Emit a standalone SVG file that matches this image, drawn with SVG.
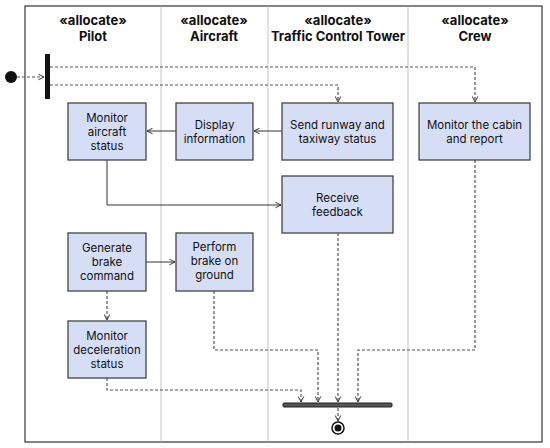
<svg xmlns="http://www.w3.org/2000/svg" width="550" height="448" viewBox="0 0 550 448">
<defs>
<marker id="ah" viewBox="0 0 10 10" refX="9" refY="5" markerWidth="7" markerHeight="7" orient="auto" markerUnits="userSpaceOnUse">
<path d="M1,1 L9,5 L1,9" fill="none" stroke="#333" stroke-width="1.4"/>
</marker>
</defs>
<style>
.lane{stroke:#d9d9d9;stroke-width:1.5}
.hdr{font-family:Inter,"Liberation Sans",sans-serif;font-size:13px;font-weight:bold;fill:#111;text-anchor:middle}
.box rect{fill:#d6def5;stroke:#444;stroke-width:1.3}
.box text{font-family:Inter,"Liberation Sans",sans-serif;font-size:11.5px;fill:#111;text-anchor:middle}
.solid{fill:none;stroke:#333;stroke-width:1}
.dash{fill:none;stroke:#555;stroke-width:1.2;stroke-dasharray:3 2}
</style>
<rect x="0" y="0" width="550" height="448" fill="#fff"/>
<rect x="25" y="6" width="517" height="436" fill="#fff" stroke="#444" stroke-width="1.3"/>
<line class="lane" x1="161" y1="6.7" x2="161" y2="441.3"/>
<line class="lane" x1="268" y1="6.7" x2="268" y2="441.3"/>
<line class="lane" x1="408" y1="6.7" x2="408" y2="441.3"/>
<g id="headers">
<text class="hdr" x="93" y="25">«allocate»</text>
<text class="hdr" x="93" y="41">Pilot</text>
<text class="hdr" x="214" y="25">«allocate»</text>
<text class="hdr" x="214" y="41">Aircraft</text>
<text class="hdr" x="338" y="25">«allocate»</text>
<text class="hdr" x="338" y="41">Traffic Control Tower</text>
<text class="hdr" x="475" y="25">«allocate»</text>
<text class="hdr" x="475" y="41">Crew</text>
</g>
<g id="connectors">
<path class="dash" d="M17,77 H44" marker-end="url(#ah)"/>
<path class="dash" d="M50,67 H475 V102" marker-end="url(#ah)"/>
<path class="dash" d="M50,85 H338 V102" marker-end="url(#ah)"/>
<path class="solid" d="M282,131 H254" marker-end="url(#ah)"/>
<path class="solid" d="M176,131 H147" marker-end="url(#ah)"/>
<path class="solid" d="M107,160 V205 H281" marker-end="url(#ah)"/>
<path class="solid" d="M146,262 H175" marker-end="url(#ah)"/>
<path class="dash" d="M107,291 V320" marker-end="url(#ah)"/>
<path class="dash" d="M214,291 V350 H318 V402" marker-end="url(#ah)"/>
<path class="dash" d="M107,378 V390 H301 V402" marker-end="url(#ah)"/>
<path class="dash" d="M338,233 V402" marker-end="url(#ah)"/>
<path class="dash" d="M475,160 V350 H358 V402" marker-end="url(#ah)"/>
<path class="dash" d="M338,408 V421" marker-end="url(#ah)"/>
</g>
<g id="initial"><circle cx="11" cy="77" r="6" fill="#111"/></g>
<g id="fork"><rect x="45" y="54" width="5" height="45" fill="#111"/></g>
<g id="join"><rect x="283" y="403" width="109" height="4" rx="1" fill="#555" stroke="#222" stroke-width="1"/></g>
<g id="final"><circle cx="338" cy="428" r="6" fill="#fff" stroke="#111" stroke-width="1.5"/><circle cx="338" cy="428" r="3.5" fill="#111"/></g>
<g id="n1" class="box"><rect x="68" y="103" width="78" height="57"/><text x="107" y="122">Monitor</text><text x="107" y="136">aircraft</text><text x="107" y="150">status</text></g>
<g id="n2" class="box"><rect x="176" y="103" width="77" height="57"/><text x="214.5" y="129">Display</text><text x="214.5" y="143">information</text></g>
<g id="n3" class="box"><rect x="282" y="103" width="111" height="57"/><text x="337.5" y="129">Send runway and</text><text x="337.5" y="143">taxiway status</text></g>
<g id="n4" class="box"><rect x="419" y="103" width="111" height="57"/><text x="474.5" y="129">Monitor the cabin</text><text x="474.5" y="143">and report</text></g>
<g id="n5" class="box"><rect x="282" y="176" width="111" height="57"/><text x="337.5" y="202">Receive</text><text x="337.5" y="216">feedback</text></g>
<g id="n6" class="box"><rect x="68" y="233" width="78" height="58"/><text x="107" y="252">Generate</text><text x="107" y="266">brake</text><text x="107" y="280">command</text></g>
<g id="n7" class="box"><rect x="176" y="233" width="77" height="58"/><text x="214.5" y="251">Perform</text><text x="214.5" y="265">brake on</text><text x="214.5" y="279">ground</text></g>
<g id="n8" class="box"><rect x="68" y="321" width="78" height="57"/><text x="107" y="340">Monitor</text><text x="107" y="354">deceleration</text><text x="107" y="368">status</text></g>
</svg>
